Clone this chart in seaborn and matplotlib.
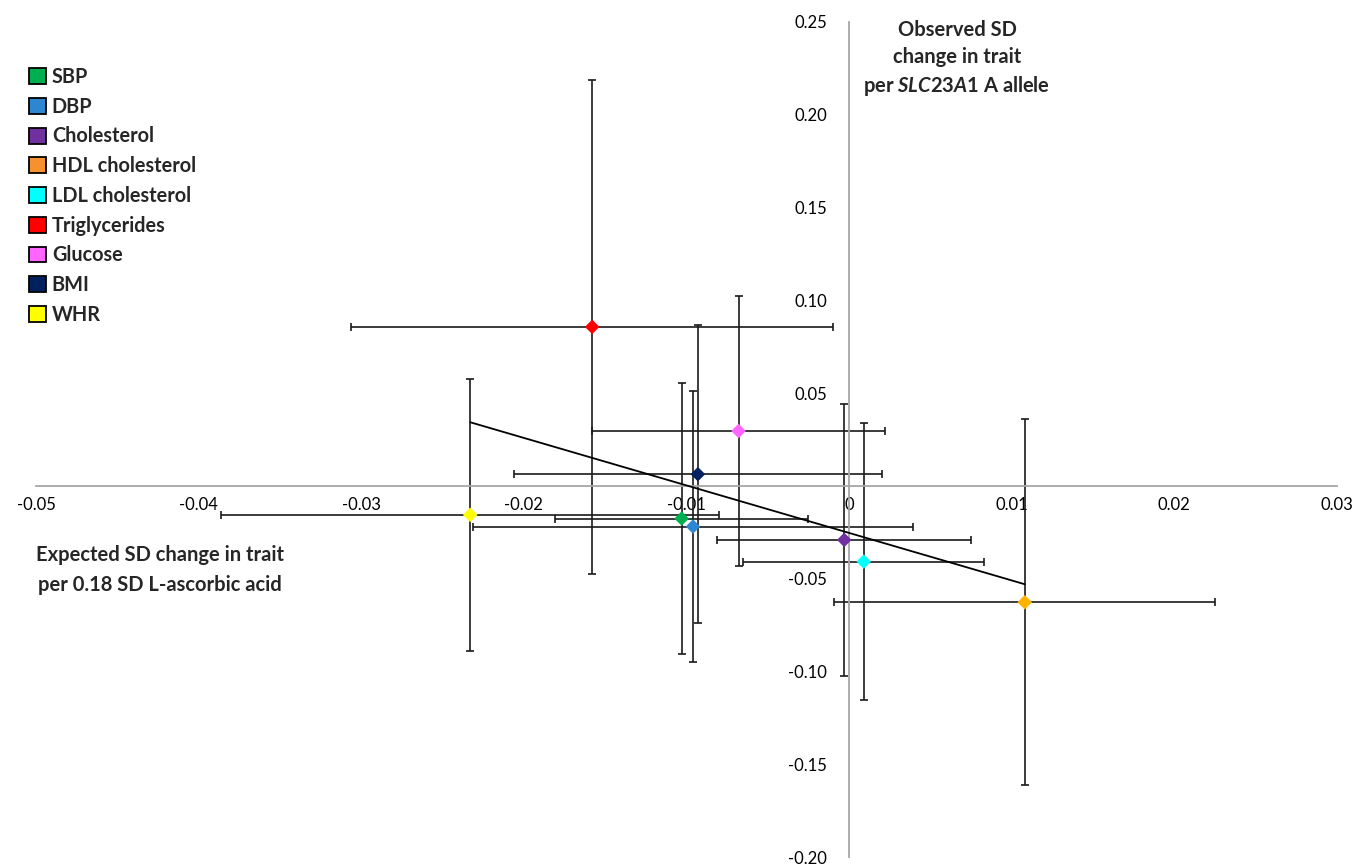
import numpy as np
import pandas as pd
import matplotlib
matplotlib.use("Agg")
import matplotlib.pyplot as plt
from matplotlib.patches import Patch
import seaborn as sns

# ---- data ----
traits = ['SBP', 'DBP', 'Cholesterol', 'HDL cholesterol', 'LDL cholesterol',
          'Triglycerides', 'Glucose', 'BMI', 'WHR']
x_expected = [-0.0103, -0.0096, -0.0003, 0.0108, 0.0009, -0.0158, -0.0068, -0.0093, -0.0233]
x_err = [0.0078, 0.0135, 0.0078, 0.0117, 0.0074, 0.0148, 0.0090, 0.0113, 0.0153]
y_observed = [-0.0176, -0.0219, -0.0291, -0.0627, -0.0408, 0.0857, 0.0296, 0.0063, -0.0156]
y_err = [0.0732, 0.0732, 0.0732, 0.0985, 0.0745, 0.1332, 0.0729, 0.0802, 0.0732]
marker_colors = ['#00B050', '#2E86D1', '#7030A0', '#FFB300', '#00FFFF',
                 '#FF0000', '#FF66FF', '#002060', '#FFFF00']
legend_colors = ['#00B050', '#2E86D1', '#7030A0', '#F7902F', '#00FFFF',
                 '#FF0000', '#FF66FF', '#002060', '#FFFF00']
fit_x = [-0.0233, 0.0108]
fit_y = [0.0343, -0.0530]
x_ticks = [-0.05, -0.04, -0.03, -0.02, -0.01, 0.0, 0.01, 0.02, 0.03]
y_ticks = [-0.20, -0.15, -0.10, -0.05, 0.05, 0.10, 0.15, 0.20, 0.25]

df = pd.DataFrame({'trait': traits, 'x': x_expected, 'y': y_observed,
                   'xerr': x_err, 'yerr': y_err})

sns.set_theme(style='white')
plt.rcParams['font.family'] = ['Lato', 'DejaVu Sans']
plt.rcParams['mathtext.fontset'] = 'custom'
plt.rcParams['mathtext.it'] = 'Lato:italic:bold'
plt.rcParams['mathtext.rm'] = 'Lato:bold'
plt.rcParams['mathtext.bf'] = 'Lato:bold'

W, H = 1355, 865
fig = plt.figure(figsize=(W / 100, H / 100), dpi=100)
ax = fig.add_axes([36 / W, 1 - 857 / H, (1337 - 36) / W, (857 - 22) / H])
ax.set_xlim(-0.05, 0.03)
ax.set_ylim(-0.20, 0.25)

ax.errorbar(df['x'], df['y'], xerr=df['xerr'], yerr=df['yerr'], fmt='none',
            ecolor='#1a1a1a', elinewidth=1.2, capsize=3.2, capthick=1.2, zorder=2)
sns.lineplot(x=fit_x, y=fit_y, color='black', linewidth=1.3, ax=ax, zorder=3)
sns.scatterplot(data=df, x='x', y='y', hue='trait', palette=marker_colors,
                marker='D', s=55, linewidth=0, legend=False, ax=ax, zorder=4)

for s in ['top', 'right']:
    ax.spines[s].set_visible(False)
ax.spines['left'].set_position(('data', 0))
ax.spines['bottom'].set_position(('data', 0))
for s in ['left', 'bottom']:
    ax.spines[s].set_color('#A6A6A6')
    ax.spines[s].set_linewidth(1.3)

ax.set_xticks(x_ticks)
ax.set_xticklabels(['0' if v == 0 else f'{v:.2f}' for v in x_ticks])
ax.set_yticks(y_ticks)
ax.set_yticklabels([f'{v:.2f}' for v in y_ticks])
ax.tick_params(axis='x', direction='in', length=5, width=1.2, pad=8,
               color='#A6A6A6', labelcolor='black', labelsize=12)
ax.tick_params(axis='y', direction='out', length=5, width=1.2, pad=11,
               color='#A6A6A6', labelcolor='black', labelsize=12)
ax.set_xlabel('')
ax.set_ylabel('')

handles = [Patch(facecolor=c, edgecolor='black', linewidth=1.3) for c in legend_colors]
leg = fig.legend(handles, traits, loc='upper left', bbox_to_anchor=(29 / W, 1 - 67 / H),
                 frameon=False, borderpad=0, borderaxespad=0, handlelength=0.85,
                 handleheight=0.85, handletextpad=0.3, labelspacing=0.49,
                 prop={'size': 14.3, 'weight': 'bold'})

fig.text(957 / W, 1 - 59 / H, "Observed SD\nchange in trait\nper $\\mathit{SLC23A1}$ A allele",
         ha='center', va='center', fontsize=14.5, fontweight='bold', linespacing=1.44)
fig.text(160 / W, 1 - 570 / H, "Expected SD change in trait\nper 0.18 SD L-ascorbic acid",
         ha='center', va='center', fontsize=14.5, fontweight='bold', linespacing=1.6)

fig.savefig('out.png', dpi=100)
